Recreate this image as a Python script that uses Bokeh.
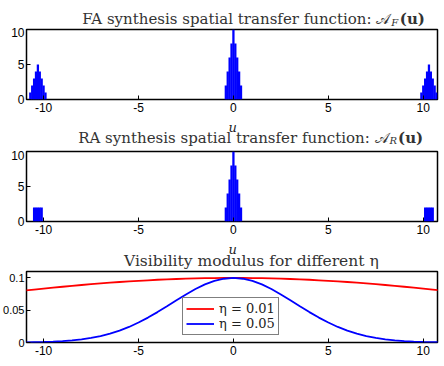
from bokeh.plotting import figure
from bokeh.layouts import column
from bokeh.models import Range1d, Label, Legend, LegendItem, FixedTicker
from bokeh.embed import file_html
from bokeh.resources import INLINE

# ---------------- data ----------------
fa_u = [-10.7, -10.6, -10.5, -10.4, -10.3, -10.2, -10.1, -10.0, -9.9,
        -0.4, -0.3, -0.2, -0.1, 0.0, 0.1, 0.2, 0.3, 0.4,
        9.9, 10.0, 10.1, 10.2, 10.3, 10.4, 10.5, 10.6, 10.7]
fa_a = [1, 2, 3, 4, 5, 4, 3, 2, 1,
        2, 4, 6, 8, 10, 8, 6, 4, 2,
        1, 2, 3, 4, 5, 4, 3, 2, 1]

ra_u = [-10.5, -10.4, -10.3, -10.2, -10.1,
        -0.4, -0.3, -0.2, -0.1, 0.0, 0.1, 0.2, 0.3, 0.4,
        10.1, 10.2, 10.3, 10.4, 10.5]
ra_a = [2, 2, 2, 2, 2,
        2, 4, 6, 8, 10, 8, 6, 4, 2,
        2, 2, 2, 2, 2]

vis_u = [-11.0, -10.5, -10.0, -9.5, -9.0, -8.5, -8.0, -7.5, -7.0, -6.5, -6.0,
         -5.5, -5.0, -4.5, -4.0, -3.5, -3.0, -2.5, -2.0, -1.5, -1.0, -0.5, 0.0,
         0.5, 1.0, 1.5, 2.0, 2.5, 3.0, 3.5, 4.0, 4.5, 5.0, 5.5, 6.0, 6.5, 7.0,
         7.5, 8.0, 8.5, 9.0, 9.5, 10.0, 10.5, 11.0]
vis_eta_001 = [0.0804, 0.0820, 0.0835, 0.0850, 0.0864, 0.0878, 0.0891, 0.0904,
               0.0916, 0.0927, 0.0937, 0.0947, 0.0956, 0.0964, 0.0972, 0.0978,
               0.0984, 0.0989, 0.0993, 0.0996, 0.0998, 0.1000, 0.1000, 0.1000,
               0.0998, 0.0996, 0.0993, 0.0989, 0.0984, 0.0978, 0.0972, 0.0964,
               0.0956, 0.0947, 0.0937, 0.0927, 0.0916, 0.0904, 0.0891, 0.0878,
               0.0864, 0.0850, 0.0835, 0.0820, 0.0804]
vis_eta_005 = [0.0003, 0.0006, 0.0009, 0.0014, 0.0022, 0.0034, 0.0049, 0.0071,
               0.0100, 0.0137, 0.0184, 0.0241, 0.0309, 0.0386, 0.0471, 0.0562,
               0.0655, 0.0745, 0.0829, 0.0900, 0.0954, 0.0988, 0.1000, 0.0988,
               0.0954, 0.0900, 0.0829, 0.0745, 0.0655, 0.0562, 0.0471, 0.0386,
               0.0309, 0.0241, 0.0184, 0.0137, 0.0100, 0.0071, 0.0049, 0.0034,
               0.0022, 0.0014, 0.0009, 0.0006, 0.0003]

x_ticks = [-10, -5, 0, 5, 10]
x_tick_labels = ["-10", "-5", "0", "5", "10"]
a_ticks = [0, 5, 10]
a_tick_labels = ["0", "5", "10"]
v_ticks = [0, 0.05, 0.1]
v_tick_labels = ["0", "0.05", "0.1"]

titles = ["FA synthesis spatial transfer function: \U0001D49C",
          "RA synthesis spatial transfer function: \U0001D49C"]
subs = ["F", "R"]
title3 = "Visibility modulus for different \u03B7"
legend_labels = ["\u03B7 = 0.01", "\u03B7 = 0.05"]
axis_name = "u"

TICK_FONT = "Liberation Sans"
SERIF = "DejaVu Serif"
TXT = "#222222"
TITLE_C = "#333333"
XR = (-10.9, 10.75)
W = 444
BL, BR = 23, 7
PX_PER_U = (W - BL - BR) / (XR[1] - XR[0])
STRIP_XR = (XR[0] - BL / PX_PER_U, XR[1] + BR / PX_PER_U)


def make_plot(height, top, bottom, yr, yticks, ylabels, ysize="12px"):
    p = figure(width=W, height=height, x_range=Range1d(*XR), y_range=Range1d(*yr),
               output_backend="svg", toolbar_location=None,
               min_border_left=BL, min_border_right=BR,
               min_border_top=top, min_border_bottom=bottom)
    p.background_fill_color = "white"
    p.border_fill_color = "white"
    p.grid.visible = False
    p.outline_line_color = "black"
    p.outline_line_width = 1.5
    p.outline_line_alpha = 1.0
    xa = p.xaxis[0]
    xa.ticker = FixedTicker(ticks=x_ticks)
    xa.major_label_overrides = {t: l for t, l in zip(x_ticks, x_tick_labels)}
    ya = p.yaxis[0]
    ya.ticker = FixedTicker(ticks=yticks)
    ya.major_label_overrides = {t: l for t, l in zip(yticks, ylabels)}
    for ax in (xa, ya):
        ax.axis_line_color = None
        ax.major_tick_in = 4
        ax.major_tick_out = 0
        ax.major_tick_line_color = "black"
        ax.minor_tick_line_color = None
        ax.major_label_text_font = TICK_FONT
        ax.major_label_text_color = "black"
    xa.major_label_text_font_size = "12px"
    xa.major_label_standoff = 3
    ya.major_label_text_font_size = ysize
    ya.major_label_standoff = 2
    return p


def make_strip(height):
    s = figure(width=W, height=height, x_range=Range1d(*STRIP_XR),
               y_range=Range1d(height, 0), output_backend="svg",
               toolbar_location=None, x_axis_type=None, y_axis_type=None,
               min_border=0)
    s.outline_line_color = None
    s.grid.visible = False
    s.background_fill_color = "white"
    s.border_fill_color = "white"
    return s


def add_title(s, text, sub, xa, y):
    s.add_layout(Label(x=xa, y=y, text=text, text_align="right", text_baseline="alphabetic",
                       text_font=SERIF, text_font_size="15px", text_color=TITLE_C))
    s.add_layout(Label(x=xa, y=y, x_offset=1, y_offset=-3, text=sub, text_align="left",
                       text_baseline="alphabetic", text_font=SERIF, text_font_size="10px",
                       text_font_style="italic", text_color=TITLE_C))
    s.add_layout(Label(x=xa, y=y, x_offset=9.5, text="(u)", text_align="left",
                       text_baseline="alphabetic", text_font=SERIF, text_font_size="15px",
                       text_font_style="bold", text_color=TITLE_C))


def add_u(s, y):
    s.add_layout(Label(x=0, y=y, x_offset=-8, text=axis_name, text_align="center",
                       text_baseline="alphabetic", text_font=SERIF, text_font_size="13px",
                       text_font_style="italic", text_color=TXT))


# strip 1: title 1
s1 = make_strip(27)
add_title(s1, titles[0], subs[0], 8.45, 18.5)

# plot 1
p1 = make_plot(90, 2, 18, (0, 10), a_ticks, a_tick_labels)
p1.vbar(x=fa_u, top=fa_a, width=0.12, bottom=0, fill_color="#0000ff", line_color=None)

# strip 2: axis name + title 2
s2 = make_strip(33)
add_u(s2, 10)
add_title(s2, titles[1], subs[1], 8.35, 20)

# plot 2
p2 = make_plot(89, 1, 18, (0, 10), a_ticks, a_tick_labels)
p2.vbar(x=ra_u, top=ra_a, width=0.12, bottom=0, fill_color="#0000ff", line_color=None)

# strip 3: axis name + title 3
s3 = make_strip(31)
add_u(s3, 9.5)
s3.add_layout(Label(x=0.6, y=21, text=title3, text_align="center",
                    text_baseline="alphabetic", text_font=SERIF, text_font_size="15.5px",
                    text_color=TITLE_C))

# plot 3
p3 = make_plot(90, 1, 18, (0, 0.11), v_ticks, v_tick_labels, ysize="11px")
r1 = p3.line(vis_u, vis_eta_001, line_color="#ff0000", line_width=1.8)
r2 = p3.line(vis_u, vis_eta_005, line_color="#0000ff", line_width=1.8)
legend = Legend(items=[LegendItem(label=legend_labels[0], renderers=[r1]),
                       LegendItem(label=legend_labels[1], renderers=[r2])],
                location=(156, 7), orientation="vertical",
                label_text_font=SERIF, label_text_font_size="13px",
                label_text_color=TXT,
                glyph_width=28, glyph_height=15, label_height=15, label_standoff=5,
                spacing=0, padding=3, margin=0,
                border_line_color="black", border_line_width=1.5,
                background_fill_color="white", background_fill_alpha=1.0)
p3.add_layout(legend)

# strip 4: axis name of plot 3 (cut by the window edge)
s4 = make_strip(6)
add_u(s4, 10)

layout = column(s1, p1, s2, p2, s3, p3, s4, spacing=0)
open("out.html", "w").write(file_html(layout, INLINE))
